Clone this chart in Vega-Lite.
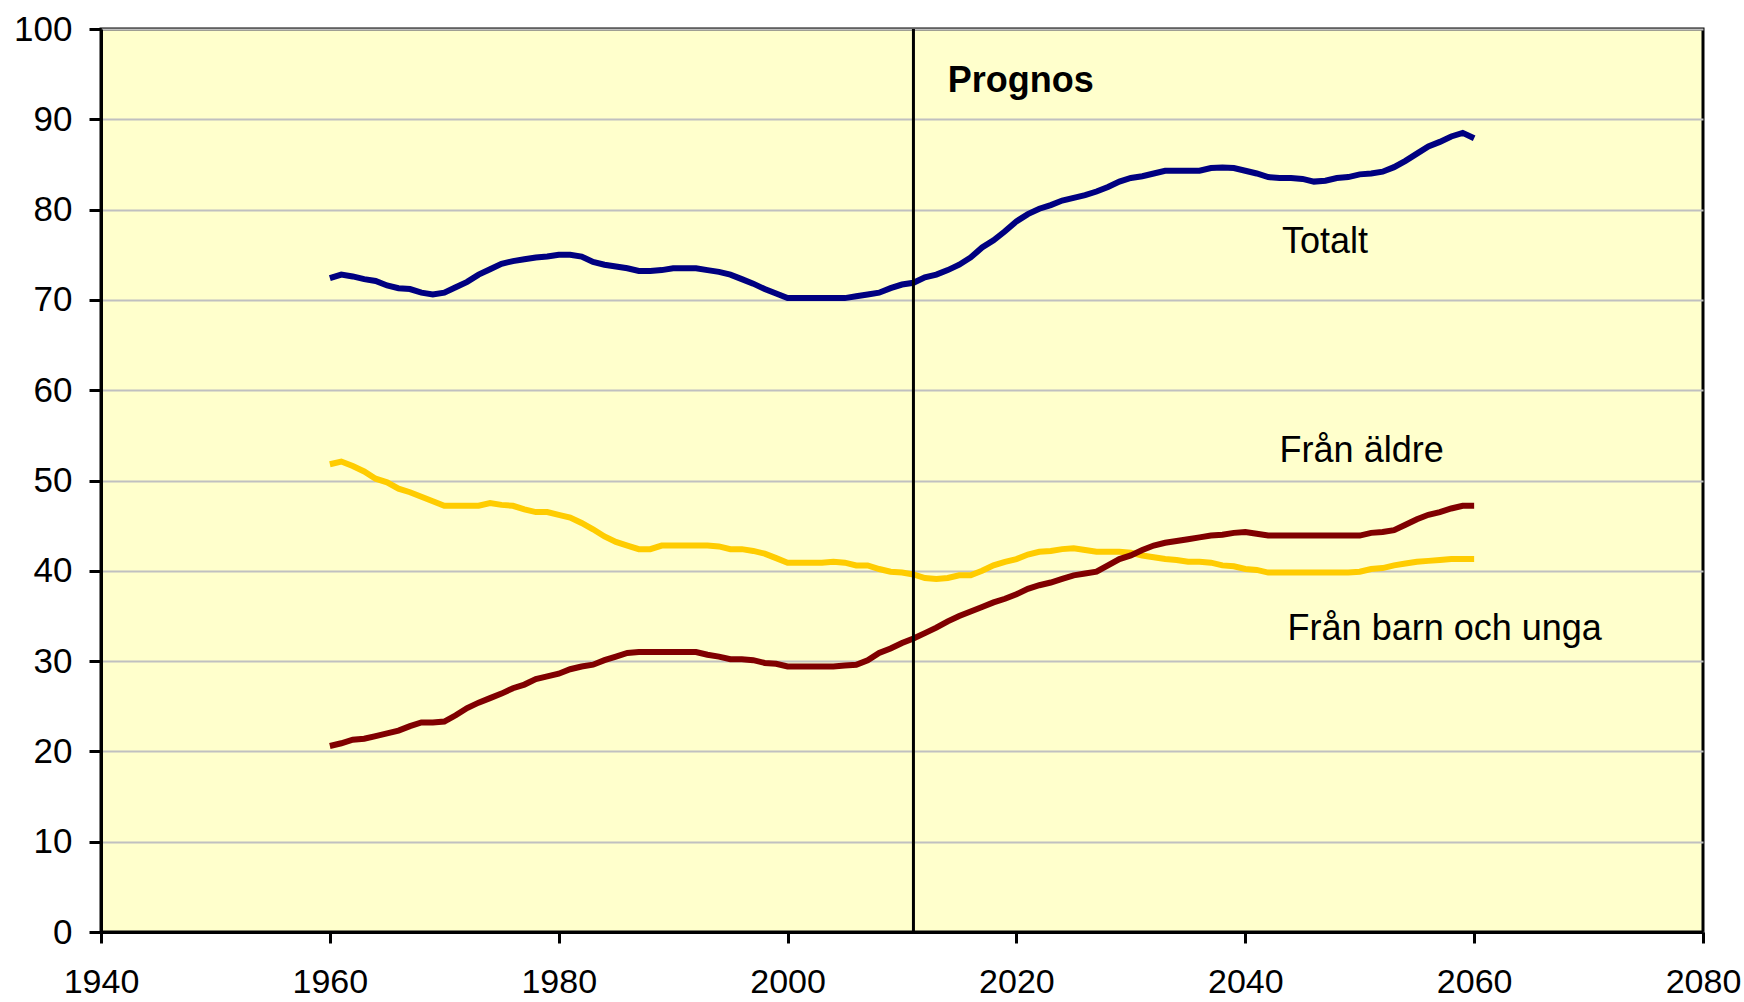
{
  "$schema": "https://vega.github.io/schema/vega-lite/v6.json",
  "width": 1602,
  "height": 903,
  "autosize": {"type": "none"},
  "padding": {"left": 101, "top": 29, "right": 41, "bottom": 70},
  "background": "#FFFFFF",
  "config": {
    "view": {"fill": "#FFFFCC", "stroke": "#000000", "strokeWidth": 3},
    "axis": {
      "labelFont": "Liberation Sans",
      "labelFontSize": 35,
      "labelColor": "#000000",
      "domainColor": "#000000",
      "domainWidth": 3,
      "tickColor": "#000000",
      "tickWidth": 3,
      "labelFlush": false,
      "labelOverlap": false,
      "title": null
    }
  },
  "datasets": {
    "series": [
      {"year": 1960, "totalt": 72.4, "aldre": 51.8, "barn": 20.6},
      {"year": 1961, "totalt": 72.8, "aldre": 52.1, "barn": 20.9},
      {"year": 1962, "totalt": 72.6, "aldre": 51.6, "barn": 21.3},
      {"year": 1963, "totalt": 72.3, "aldre": 51.0, "barn": 21.4},
      {"year": 1964, "totalt": 72.1, "aldre": 50.2, "barn": 21.7},
      {"year": 1965, "totalt": 71.6, "aldre": 49.8, "barn": 22.0},
      {"year": 1966, "totalt": 71.3, "aldre": 49.1, "barn": 22.3},
      {"year": 1967, "totalt": 71.2, "aldre": 48.7, "barn": 22.8},
      {"year": 1968, "totalt": 70.8, "aldre": 48.2, "barn": 23.2},
      {"year": 1969, "totalt": 70.6, "aldre": 47.7, "barn": 23.2},
      {"year": 1970, "totalt": 70.8, "aldre": 47.2, "barn": 23.3},
      {"year": 1971, "totalt": 71.4, "aldre": 47.2, "barn": 24.0},
      {"year": 1972, "totalt": 72.0, "aldre": 47.2, "barn": 24.8},
      {"year": 1973, "totalt": 72.8, "aldre": 47.2, "barn": 25.4},
      {"year": 1974, "totalt": 73.4, "aldre": 47.5, "barn": 25.9},
      {"year": 1975, "totalt": 74.0, "aldre": 47.3, "barn": 26.4},
      {"year": 1976, "totalt": 74.3, "aldre": 47.2, "barn": 27.0},
      {"year": 1977, "totalt": 74.5, "aldre": 46.8, "barn": 27.4},
      {"year": 1978, "totalt": 74.7, "aldre": 46.5, "barn": 28.0},
      {"year": 1979, "totalt": 74.8, "aldre": 46.5, "barn": 28.3},
      {"year": 1980, "totalt": 75.0, "aldre": 46.2, "barn": 28.6},
      {"year": 1981, "totalt": 75.0, "aldre": 45.9, "barn": 29.1},
      {"year": 1982, "totalt": 74.8, "aldre": 45.3, "barn": 29.4},
      {"year": 1983, "totalt": 74.2, "aldre": 44.6, "barn": 29.6},
      {"year": 1984, "totalt": 73.9, "aldre": 43.8, "barn": 30.1},
      {"year": 1985, "totalt": 73.7, "aldre": 43.2, "barn": 30.5},
      {"year": 1986, "totalt": 73.5, "aldre": 42.8, "barn": 30.9},
      {"year": 1987, "totalt": 73.2, "aldre": 42.4, "barn": 31.0},
      {"year": 1988, "totalt": 73.2, "aldre": 42.4, "barn": 31.0},
      {"year": 1989, "totalt": 73.3, "aldre": 42.8, "barn": 31.0},
      {"year": 1990, "totalt": 73.5, "aldre": 42.8, "barn": 31.0},
      {"year": 1991, "totalt": 73.5, "aldre": 42.8, "barn": 31.0},
      {"year": 1992, "totalt": 73.5, "aldre": 42.8, "barn": 31.0},
      {"year": 1993, "totalt": 73.3, "aldre": 42.8, "barn": 30.7},
      {"year": 1994, "totalt": 73.1, "aldre": 42.7, "barn": 30.5},
      {"year": 1995, "totalt": 72.8, "aldre": 42.4, "barn": 30.2},
      {"year": 1996, "totalt": 72.3, "aldre": 42.4, "barn": 30.2},
      {"year": 1997, "totalt": 71.8, "aldre": 42.2, "barn": 30.1},
      {"year": 1998, "totalt": 71.2, "aldre": 41.9, "barn": 29.8},
      {"year": 1999, "totalt": 70.7, "aldre": 41.4, "barn": 29.7},
      {"year": 2000, "totalt": 70.2, "aldre": 40.9, "barn": 29.4},
      {"year": 2001, "totalt": 70.2, "aldre": 40.9, "barn": 29.4},
      {"year": 2002, "totalt": 70.2, "aldre": 40.9, "barn": 29.4},
      {"year": 2003, "totalt": 70.2, "aldre": 40.9, "barn": 29.4},
      {"year": 2004, "totalt": 70.2, "aldre": 41.0, "barn": 29.4},
      {"year": 2005, "totalt": 70.2, "aldre": 40.9, "barn": 29.5},
      {"year": 2006, "totalt": 70.4, "aldre": 40.6, "barn": 29.6},
      {"year": 2007, "totalt": 70.6, "aldre": 40.6, "barn": 30.1},
      {"year": 2008, "totalt": 70.8, "aldre": 40.2, "barn": 30.9},
      {"year": 2009, "totalt": 71.3, "aldre": 39.9, "barn": 31.4},
      {"year": 2010, "totalt": 71.7, "aldre": 39.8, "barn": 32.0},
      {"year": 2011, "totalt": 71.9, "aldre": 39.6, "barn": 32.5},
      {"year": 2012, "totalt": 72.5, "aldre": 39.2, "barn": 33.1},
      {"year": 2013, "totalt": 72.8, "aldre": 39.1, "barn": 33.7},
      {"year": 2014, "totalt": 73.3, "aldre": 39.2, "barn": 34.4},
      {"year": 2015, "totalt": 73.9, "aldre": 39.5, "barn": 35.0},
      {"year": 2016, "totalt": 74.7, "aldre": 39.5, "barn": 35.5},
      {"year": 2017, "totalt": 75.8, "aldre": 40.0, "barn": 36.0},
      {"year": 2018, "totalt": 76.6, "aldre": 40.6, "barn": 36.5},
      {"year": 2019, "totalt": 77.6, "aldre": 41.0, "barn": 36.9},
      {"year": 2020, "totalt": 78.7, "aldre": 41.3, "barn": 37.4},
      {"year": 2021, "totalt": 79.5, "aldre": 41.8, "barn": 38.0},
      {"year": 2022, "totalt": 80.1, "aldre": 42.1, "barn": 38.4},
      {"year": 2023, "totalt": 80.5, "aldre": 42.2, "barn": 38.7},
      {"year": 2024, "totalt": 81.0, "aldre": 42.4, "barn": 39.1},
      {"year": 2025, "totalt": 81.3, "aldre": 42.5, "barn": 39.5},
      {"year": 2026, "totalt": 81.6, "aldre": 42.3, "barn": 39.7},
      {"year": 2027, "totalt": 82.0, "aldre": 42.1, "barn": 39.9},
      {"year": 2028, "totalt": 82.5, "aldre": 42.1, "barn": 40.6},
      {"year": 2029, "totalt": 83.1, "aldre": 42.1, "barn": 41.3},
      {"year": 2030, "totalt": 83.5, "aldre": 42.0, "barn": 41.7},
      {"year": 2031, "totalt": 83.7, "aldre": 41.7, "barn": 42.3},
      {"year": 2032, "totalt": 84.0, "aldre": 41.5, "barn": 42.8},
      {"year": 2033, "totalt": 84.3, "aldre": 41.3, "barn": 43.1},
      {"year": 2034, "totalt": 84.3, "aldre": 41.2, "barn": 43.3},
      {"year": 2035, "totalt": 84.3, "aldre": 41.0, "barn": 43.5},
      {"year": 2036, "totalt": 84.3, "aldre": 41.0, "barn": 43.7},
      {"year": 2037, "totalt": 84.6, "aldre": 40.9, "barn": 43.9},
      {"year": 2038, "totalt": 84.65, "aldre": 40.6, "barn": 44.0},
      {"year": 2039, "totalt": 84.6, "aldre": 40.5, "barn": 44.2},
      {"year": 2040, "totalt": 84.3, "aldre": 40.2, "barn": 44.3},
      {"year": 2041, "totalt": 84.0, "aldre": 40.1, "barn": 44.1},
      {"year": 2042, "totalt": 83.6, "aldre": 39.8, "barn": 43.9},
      {"year": 2043, "totalt": 83.5, "aldre": 39.8, "barn": 43.9},
      {"year": 2044, "totalt": 83.5, "aldre": 39.8, "barn": 43.9},
      {"year": 2045, "totalt": 83.4, "aldre": 39.8, "barn": 43.9},
      {"year": 2046, "totalt": 83.1, "aldre": 39.8, "barn": 43.9},
      {"year": 2047, "totalt": 83.2, "aldre": 39.8, "barn": 43.9},
      {"year": 2048, "totalt": 83.5, "aldre": 39.8, "barn": 43.9},
      {"year": 2049, "totalt": 83.6, "aldre": 39.8, "barn": 43.9},
      {"year": 2050, "totalt": 83.9, "aldre": 39.9, "barn": 43.9},
      {"year": 2051, "totalt": 84.0, "aldre": 40.2, "barn": 44.2},
      {"year": 2052, "totalt": 84.2, "aldre": 40.3, "barn": 44.3},
      {"year": 2053, "totalt": 84.7, "aldre": 40.6, "barn": 44.5},
      {"year": 2054, "totalt": 85.4, "aldre": 40.8, "barn": 45.1},
      {"year": 2055, "totalt": 86.2, "aldre": 41.0, "barn": 45.7},
      {"year": 2056, "totalt": 87.0, "aldre": 41.1, "barn": 46.2},
      {"year": 2057, "totalt": 87.5, "aldre": 41.2, "barn": 46.5},
      {"year": 2058, "totalt": 88.1, "aldre": 41.3, "barn": 46.9},
      {"year": 2059, "totalt": 88.5, "aldre": 41.3, "barn": 47.2},
      {"year": 2060, "totalt": 87.9, "aldre": 41.3, "barn": 47.2}
    ],
    "labels": [
      {"year": 2043.2, "value": 76.4, "text": "Totalt"},
      {"year": 2043.0, "value": 53.3, "text": "Från äldre"},
      {"year": 2043.7, "value": 33.5, "text": "Från barn och unga"}
    ],
    "title": [{"year": 2014.0, "value": 94.2, "text": "Prognos"}],
    "prognos": [{"year": 2011}]
  },
  "layer": [
    {
      "data": {"name": "series"},
      "mark": {"type": "line", "color": "#FFCC00", "strokeWidth": 6},
      "encoding": {
        "x": {
          "field": "year", "type": "quantitative",
          "scale": {"domain": [1940, 2080], "nice": false, "zero": false},
          "axis": {"values": [1940, 1960, 1980, 2000, 2020, 2040, 2060, 2080], "format": "d", "grid": false, "tickSize": 11, "labelPadding": 22, "labelFontSize": 34}
        },
        "y": {
          "field": "aldre", "type": "quantitative",
          "scale": {"domain": [0, 100], "nice": false},
          "axis": {"values": [0, 10, 20, 30, 40, 50, 60, 70, 80, 90, 100], "grid": true, "gridColor": "#C0C0C0", "gridWidth": 2, "tickSize": 12, "labelPadding": 17}
        }
      }
    },
    {
      "data": {"name": "series"},
      "mark": {"type": "line", "color": "#800000", "strokeWidth": 6},
      "encoding": {
        "x": {"field": "year", "type": "quantitative"},
        "y": {"field": "barn", "type": "quantitative"}
      }
    },
    {
      "data": {"name": "series"},
      "mark": {"type": "line", "color": "#000080", "strokeWidth": 6},
      "encoding": {
        "x": {"field": "year", "type": "quantitative"},
        "y": {"field": "totalt", "type": "quantitative"}
      }
    },
    {
      "data": {"name": "prognos"},
      "mark": {"type": "rule", "color": "#000000", "strokeWidth": 3},
      "encoding": {
        "x": {"field": "year", "type": "quantitative"}
      }
    },
    {
      "data": {"name": "labels"},
      "mark": {"type": "text", "align": "left", "baseline": "middle", "font": "Liberation Sans", "fontSize": 36, "color": "#000000"},
      "encoding": {
        "x": {"field": "year", "type": "quantitative"},
        "y": {"field": "value", "type": "quantitative"},
        "text": {"field": "text"}
      }
    },
    {
      "data": {"name": "title"},
      "mark": {"type": "text", "align": "left", "baseline": "middle", "font": "Liberation Sans", "fontSize": 36, "fontWeight": "bold", "color": "#000000"},
      "encoding": {
        "x": {"field": "year", "type": "quantitative"},
        "y": {"field": "value", "type": "quantitative"},
        "text": {"field": "text"}
      }
    }
  ]
}
